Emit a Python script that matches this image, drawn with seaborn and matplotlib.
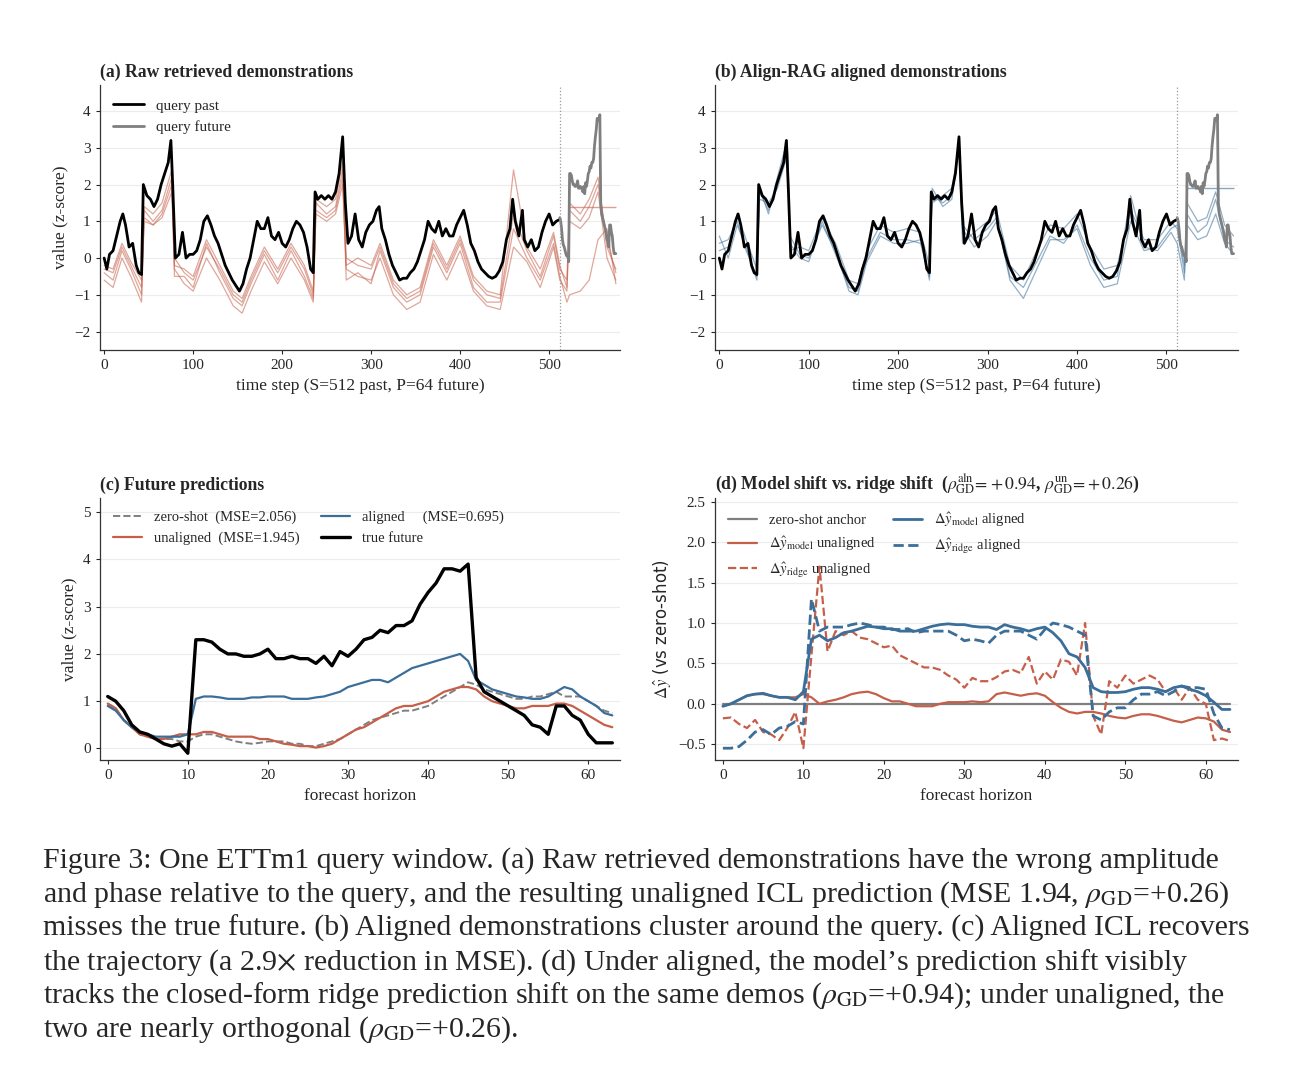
import numpy as np
import matplotlib
matplotlib.use("Agg")
import matplotlib.pyplot as plt
import seaborn as sns

sns.set_style("white")
plt.rcParams['font.family'] = ['Liberation Serif', 'DejaVu Serif']
plt.rcParams['mathtext.fontset'] = 'stix'

ORANGE = '#c65f49'
BLUE = '#3b6e98'
GRAY = '#7f7f7f'

# ---- panels (a)/(b): query series (knots) ----
query_past = [(0,0.0),(3,-0.3),(6,0.1),(10,0.2),(14,0.6),(18,1.0),(21,1.2),(24,0.9),(28,0.3),(32,0.4),
              (36,-0.2),(39,-0.4),(42,-0.45),(44,2.0),(48,1.7),(52,1.6),(56,1.4),(60,1.6),(64,2.0),(68,2.3),
              (72,2.6),(75,3.2),(77,2.0),(80,0.0),(84,0.1),(88,0.7),(92,0.0),(96,0.1),(100,0.1),(104,0.2),
              (108,0.5),(112,1.0),(116,1.15),(120,0.9),(124,0.6),(128,0.4),(132,0.1),(136,-0.2),(140,-0.4),
              (144,-0.6),(148,-0.75),(152,-0.9),(156,-0.7),(160,-0.3),(164,0.0),(168,0.5),(172,1.0),(176,0.8),
              (180,0.8),(184,1.1),(188,0.6),(192,0.5),(196,0.7),(200,0.4),(204,0.3),(208,0.5),(212,0.8),
              (216,1.0),(220,0.9),(224,0.7),(228,0.3),(232,-0.3),(235,-0.4),(237,1.8),(240,1.6),(244,1.7),
              (248,1.6),(252,1.7),(256,1.6),(260,1.8),(264,2.3),(268,3.3),(271,1.5),(274,0.4),(278,0.6),
              (282,1.2),(286,0.5),(290,0.3),(294,0.7),(298,0.9),(302,1.0),(306,1.3),(309,1.4),(312,0.8),
              (316,0.5),(320,0.1),(324,-0.2),(328,-0.4),(332,-0.6),(336,-0.55),(340,-0.55),(344,-0.4),
              (348,-0.3),(352,-0.1),(356,0.2),(360,0.5),(364,1.0),(368,0.8),(372,0.7),(376,1.0),(380,0.6),
              (384,0.8),(388,0.6),(392,0.6),(396,0.9),(400,1.1),(404,1.3),(408,0.9),(412,0.4),(416,0.2),
              (420,-0.1),(424,-0.3),(428,-0.4),(432,-0.5),(436,-0.55),(440,-0.5),(444,-0.35),(448,-0.1),
              (452,0.5),(456,0.8),(459,1.6),(462,1.0),(466,0.6),(470,1.3),(472,0.5),(476,0.3),(480,0.5),
              (484,0.2),(488,0.3),(492,0.7),(496,1.0),(500,1.2),(504,0.9),(508,1.0),(512,1.05)]
past_x = [p[0] for p in query_past]
past_y = [p[1] for p in query_past]

# demonstration knots
demo_x = [0,10,20,30,42,45,55,65,76,79,90,100,115,130,145,155,165,180,195,210,225,235,238,250,260,
          268,272,285,300,310,325,340,355,370,385,400,415,430,445,460,475,490,505,512,520,523,535,545,555,565,575]
raw_demos = [
    [-0.3,-0.4,0.3,-0.2,-0.8,1.4,1.2,1.5,2.4,0.0,-0.4,-0.6,0.3,-0.3,-1.0,-1.2,-0.6,0.2,-0.4,0.3,-0.3,-1.0,1.6,1.4,1.6,
     2.6,0.0,-0.2,-0.3,0.3,-0.7,-1.1,-0.9,0.4,-0.3,0.5,-0.6,-1.0,-1.1,1.2,0.2,-0.5,0.6,-0.3,-0.6,1.5,1.2,1.6,2.2,0.3,-0.3],
    [-0.6,-0.8,0.0,-0.5,-1.2,1.1,0.9,1.2,2.0,-0.3,-0.7,-0.9,0.0,-0.6,-1.3,-1.5,-0.9,-0.1,-0.7,0.0,-0.6,-1.2,1.3,1.1,1.3,
     2.2,-0.3,-0.5,-0.6,0.0,-1.0,-1.4,-1.2,0.1,-0.6,0.2,-0.9,-1.3,-1.4,0.3,-0.1,-0.8,0.3,-0.6,-0.9,1.0,0.8,1.1,1.8,0.0,-0.6],
    [-0.4,-0.6,0.2,-0.3,-1.0,1.3,1.0,1.3,2.2,-0.5,-0.5,-0.8,0.4,-0.4,-1.1,-1.3,-0.7,0.1,-0.6,0.2,-0.5,-1.1,1.5,1.2,1.4,
     2.4,-0.6,-0.4,-0.7,0.2,-0.8,-1.2,-1.0,0.3,-0.4,0.4,-0.8,-1.2,-1.2,0.8,0.0,-0.6,0.4,-0.5,-1.2,-1.0,-0.9,-0.6,0.5,0.8,-0.7],
    [-0.2,-0.3,0.4,-0.1,-0.6,1.0,0.9,1.1,1.8,-0.2,-0.3,-0.5,0.5,-0.2,-0.9,-1.1,-0.5,0.3,-0.3,0.4,-0.2,-0.9,1.2,1.0,1.2,
     2.0,-0.2,0.0,-0.2,0.4,-0.6,-1.0,-0.8,0.5,-0.2,0.6,-0.5,-0.9,-1.0,2.4,0.3,-0.3,0.7,-0.2,-0.8,1.3,1.0,1.4,2.0,0.5,-0.4],
]
aligned_demos = [
    [0.4,0.5,1.0,0.2,-0.5,1.8,1.3,2.0,3.1,0.4,0.0,-0.1,1.0,0.1,-0.8,-0.9,0.0,0.7,0.5,0.5,0.4,-0.5,1.7,1.5,1.7,
     3.0,0.8,0.3,0.6,1.0,-0.5,-0.8,-0.1,0.6,0.4,0.9,0.0,-0.6,-0.5,1.7,0.3,0.2,0.7,0.4,-0.6,1.2,0.7,0.9,1.6,0.5,0.3],
    [0.2,0.3,1.2,0.5,-0.3,1.6,1.5,1.9,2.8,0.2,0.3,0.2,1.1,0.4,-0.6,-0.7,0.2,0.9,0.7,0.8,0.7,-0.2,1.5,1.7,1.9,
     3.0,0.4,0.7,1.0,1.3,-0.2,-0.6,0.2,0.9,0.8,1.2,0.3,-0.3,-0.2,1.3,0.5,0.5,1.0,0.8,-0.4,0.9,0.5,0.6,1.2,0.4,0.1],
    [0.6,0.0,0.9,0.3,-0.6,1.9,1.2,2.2,3.2,0.6,0.1,0.0,0.9,0.2,-0.9,-1.0,-0.1,0.6,0.4,0.4,0.5,-0.6,1.9,1.4,1.6,
     3.1,0.9,0.5,0.8,1.1,-0.6,-1.1,-0.3,0.5,0.5,0.8,-0.2,-0.8,-0.7,1.0,0.2,0.3,0.8,0.9,-0.2,1.5,1.0,1.1,1.8,0.9,0.6],
]
raw_future_mean = 1.4
aligned_future_mean = 1.9

# ---- panel (c): forecasts over horizon 0..63 ----
horizon = list(range(64))
true_future = [1.1,1.0,0.8,0.5,0.35,0.3,0.2,0.1,0.05,0.1,-0.1,2.3,2.3,2.25,2.1,2.0,2.0,1.95,1.95,2.0,
               2.1,1.9,1.9,1.95,1.9,1.9,1.8,1.95,1.75,2.05,1.95,2.1,2.3,2.35,2.5,2.45,2.6,2.6,2.7,3.05,
               3.3,3.5,3.8,3.8,3.75,3.9,1.5,1.2,1.1,1.0,0.9,0.8,0.7,0.5,0.45,0.3,0.9,0.9,0.7,0.6,
               0.3,0.12,0.12,0.12]
pred_aligned = [0.9,0.8,0.6,0.45,0.35,0.3,0.25,0.25,0.25,0.25,0.3,1.05,1.1,1.1,1.08,1.05,1.05,1.05,1.08,1.08,
                1.1,1.1,1.1,1.05,1.05,1.05,1.08,1.1,1.15,1.2,1.3,1.35,1.4,1.45,1.45,1.4,1.5,1.6,1.7,1.75,
                1.8,1.85,1.9,1.95,2.0,1.85,1.45,1.35,1.25,1.2,1.15,1.1,1.08,1.05,1.05,1.1,1.2,1.3,1.25,1.1,
                1.0,0.9,0.75,0.7]
pred_zero = [0.95,0.85,0.6,0.45,0.3,0.25,0.2,0.2,0.2,0.15,0.15,0.25,0.3,0.3,0.25,0.2,0.15,0.12,0.1,0.12,
             0.15,0.15,0.15,0.1,0.1,0.05,0.05,0.1,0.15,0.2,0.3,0.4,0.5,0.6,0.65,0.7,0.75,0.8,0.8,0.85,
             0.9,1.0,1.1,1.2,1.3,1.4,1.35,1.25,1.2,1.15,1.1,1.05,1.05,1.1,1.1,1.15,1.2,1.1,1.1,1.1,
             1.0,0.9,0.8,0.75]
pred_unaligned = [0.95,0.85,0.6,0.45,0.3,0.25,0.2,0.2,0.25,0.3,0.3,0.3,0.35,0.35,0.3,0.25,0.25,0.25,0.25,0.2,
                  0.2,0.15,0.1,0.08,0.05,0.05,0.02,0.05,0.1,0.2,0.3,0.4,0.45,0.55,0.65,0.75,0.85,0.9,0.9,0.95,
                  1.0,1.1,1.2,1.25,1.3,1.3,1.25,1.1,1.0,0.95,0.9,0.85,0.85,0.9,0.9,0.9,0.95,0.95,0.9,0.8,
                  0.7,0.6,0.5,0.45]

# ---- panel (d): shifts vs zero-shot ----
model_aligned = [-0.03,0,0.05,0.1,0.12,0.13,0.1,0.08,0.08,0.05,0.15,0.8,0.85,0.78,0.82,0.88,0.9,0.93,0.96,0.95,
                 0.93,0.93,0.9,0.9,0.9,0.93,0.96,0.98,0.99,0.98,0.98,0.96,0.95,0.95,0.92,0.98,0.95,0.93,0.9,0.93,
                 0.95,0.88,0.78,0.62,0.58,0.45,0.2,0.15,0.14,0.14,0.15,0.18,0.2,0.2,0.18,0.15,0.2,0.22,0.18,0.15,
                 0.1,0.02,-0.07,-0.07]
ridge_aligned = [-0.55,-0.55,-0.53,-0.45,-0.35,-0.32,-0.38,-0.3,-0.28,-0.22,-0.25,1.3,0.9,0.95,0.95,0.95,0.98,1.0,0.98,0.95,
                 0.95,0.92,0.92,0.93,0.88,0.9,0.9,0.9,0.9,0.85,0.78,0.8,0.78,0.75,0.85,0.9,0.9,0.9,0.85,0.8,
                 0.92,1.0,0.98,0.95,0.9,0.85,-0.15,-0.2,-0.1,-0.05,-0.05,0.05,0.12,0.12,0.15,0.1,0.15,0.22,0.2,0.2,
                 0.18,-0.12,-0.3,-0.32]
model_unaligned = [-0.03,0,0.05,0.1,0.12,0.12,0.1,0.08,0.08,0.08,0.12,0.08,0,0.03,0.05,0.08,0.12,0.14,0.15,0.12,
                   0.07,0.03,0.03,0,-0.03,-0.03,-0.03,0,0.02,0.02,0.02,0.03,0.02,0.03,0.12,0.14,0.12,0.1,0.12,0.13,
                   0.1,0.02,-0.05,-0.1,-0.12,-0.1,-0.1,-0.12,-0.15,-0.17,-0.18,-0.15,-0.13,-0.13,-0.15,-0.18,-0.21,-0.23,-0.2,-0.17,
                   -0.18,-0.22,-0.32,-0.35]
ridge_unaligned = [-0.18,-0.17,-0.25,-0.3,-0.2,-0.35,-0.38,-0.45,-0.3,-0.1,-0.55,0.6,1.7,0.65,0.9,0.85,0.9,0.82,0.8,0.75,
                   0.7,0.72,0.6,0.55,0.5,0.45,0.45,0.42,0.35,0.3,0.2,0.32,0.28,0.28,0.33,0.4,0.42,0.38,0.58,0.25,
                   0.4,0.3,0.55,0.52,0.35,1.0,-0.15,-0.38,0.28,0.2,0.35,0.25,0.3,0.35,0.3,0.15,0.2,0.05,0.2,0.05,
                   0.0,-0.45,-0.43,-0.46]

S = 512
fut_x = [S + h for h in horizon]

fig = plt.figure(figsize=(12.95, 10.8), dpi=100)
ax_a = fig.add_axes([0.077, 0.676, 0.402, 0.245])
ax_b = fig.add_axes([0.552, 0.676, 0.404, 0.245])
ax_c = fig.add_axes([0.077, 0.296, 0.402, 0.243])
ax_d = fig.add_axes([0.552, 0.296, 0.404, 0.243])


def style(ax):
    sns.despine(ax=ax)
    ax.grid(axis='y', color='#ececec', lw=0.8)
    ax.set_axisbelow(True)
    ax.tick_params(labelsize=11, length=3, left=True, bottom=True)
    for s in ['left', 'bottom']:
        ax.spines[s].set_color('#333333')
        ax.spines[s].set_linewidth(0.9)


def demo_panel(ax, demos, color, fmean, title, show_ylabel):
    for d in demos:
        sns.lineplot(x=demo_x, y=d, ax=ax, color=color, lw=0.9, alpha=0.55)
    ax.hlines(fmean, S + 10, 575, color=color, lw=1.0, alpha=0.6)
    sns.lineplot(x=past_x, y=past_y, ax=ax, color='black', lw=2.0, label='query past')
    sns.lineplot(x=fut_x, y=true_future, ax=ax, color=GRAY, lw=2.0, label='query future')
    ax.axvline(S, color='#999999', ls=':', lw=0.9)
    ax.set_xlim(-5, 580)
    ax.set_ylim(-2.5, 4.7)
    ax.set_yticks([-2, -1, 0, 1, 2, 3, 4])
    ax.set_xticks([0, 100, 200, 300, 400, 500])
    ax.set_xlabel('time step (S=512 past, P=64 future)', fontsize=12.5)
    ax.set_ylabel('value (z-score)' if show_ylabel else '', fontsize=12.5)
    ax.set_title(title, loc='left', fontsize=12.7, fontweight='bold')
    style(ax)


demo_panel(ax_a, raw_demos, ORANGE, raw_future_mean, '(a) Raw retrieved demonstrations', True)
ax_a.legend(loc='upper left', frameon=False, fontsize=11, handlelength=2)
demo_panel(ax_b, aligned_demos, BLUE, aligned_future_mean, '(b) Align-RAG aligned demonstrations', False)
ax_b.get_legend().remove()

# (c)
sns.lineplot(x=horizon, y=pred_zero, ax=ax_c, color=GRAY, lw=1.4, ls='--', label='zero-shot  (MSE=2.056)')
sns.lineplot(x=horizon, y=pred_unaligned, ax=ax_c, color=ORANGE, lw=1.6, label='unaligned  (MSE=1.945)')
sns.lineplot(x=horizon, y=pred_aligned, ax=ax_c, color=BLUE, lw=1.6, label='aligned     (MSE=0.695)')
sns.lineplot(x=horizon, y=true_future, ax=ax_c, color='black', lw=2.4, label='true future')
ax_c.set_xlim(-1, 64)
ax_c.set_ylim(-0.25, 5.3)
ax_c.set_yticks([0, 1, 2, 3, 4, 5])
ax_c.set_xticks([0, 10, 20, 30, 40, 50, 60])
ax_c.set_xlabel('forecast horizon', fontsize=12.5)
ax_c.set_ylabel('value (z-score)', fontsize=12.5)
ax_c.set_title('(c) Future predictions', loc='left', fontsize=12.7, fontweight='bold')
ax_c.legend(loc='upper left', ncol=2, frameon=False, fontsize=10.5, handlelength=2, columnspacing=1.5)
style(ax_c)

# (d)
zero_anchor = [0.0] * len(horizon)
sns.lineplot(x=horizon, y=zero_anchor, ax=ax_d, color=GRAY, lw=1.6, label='zero-shot anchor')
sns.lineplot(x=horizon, y=model_unaligned, ax=ax_d, color=ORANGE, lw=1.6,
             label=r'$\Delta\hat{y}_{\rm model}$ unaligned')
sns.lineplot(x=horizon, y=ridge_unaligned, ax=ax_d, color=ORANGE, lw=1.6, ls='--',
             label=r'$\Delta\hat{y}_{\rm ridge}$ unaligned')
sns.lineplot(x=horizon, y=model_aligned, ax=ax_d, color=BLUE, lw=2.0,
             label=r'$\Delta\hat{y}_{\rm model}$ aligned')
sns.lineplot(x=horizon, y=ridge_aligned, ax=ax_d, color=BLUE, lw=2.0, ls='--',
             label=r'$\Delta\hat{y}_{\rm ridge}$ aligned')
ax_d.set_xlim(-1, 64)
ax_d.set_ylim(-0.7, 2.55)
ax_d.set_yticks([-0.5, 0.0, 0.5, 1.0, 1.5, 2.0, 2.5])
ax_d.set_xticks([0, 10, 20, 30, 40, 50, 60])
ax_d.set_xlabel('forecast horizon', fontsize=12.5)
ax_d.set_ylabel(r'$\Delta\hat{y}$ (vs zero-shot)', fontsize=12, family='DejaVu Sans')
ax_d.set_title(r'(d) Model shift vs. ridge shift  ($\rho^{\rm aln}_{\rm GD}\!=\!+0.94$, $\rho^{\rm un}_{\rm GD}\!=\!+0.26$)',
               loc='left', fontsize=12.7, fontweight='bold')
ax_d.legend(loc='upper left', ncol=2, frameon=False, fontsize=10.5, handlelength=2, columnspacing=1.2)
style(ax_d)

caption = [
    'Figure 3: One ETTm1 query window. (a) Raw retrieved demonstrations have the wrong amplitude',
    r'and phase relative to the query, and the resulting unaligned ICL prediction (MSE 1.94, $\rho_{\rm GD}$=+0.26)',
    'misses the true future. (b) Aligned demonstrations cluster around the query. (c) Aligned ICL recovers',
    r'the trajectory (a 2.9$\times$ reduction in MSE). (d) Under aligned, the model’s prediction shift visibly',
    r'tracks the closed-form ridge prediction shift on the same demos ($\rho_{\rm GD}$=+0.94); under unaligned, the',
    r'two are nearly orthogonal ($\rho_{\rm GD}$=+0.26).',
]
for i, line in enumerate(caption):
    fig.text(0.033, 0.203 - i * 0.0313, line, fontsize=21.5, va='center', ha='left')

fig.savefig('out.png', dpi=100, facecolor='white')
